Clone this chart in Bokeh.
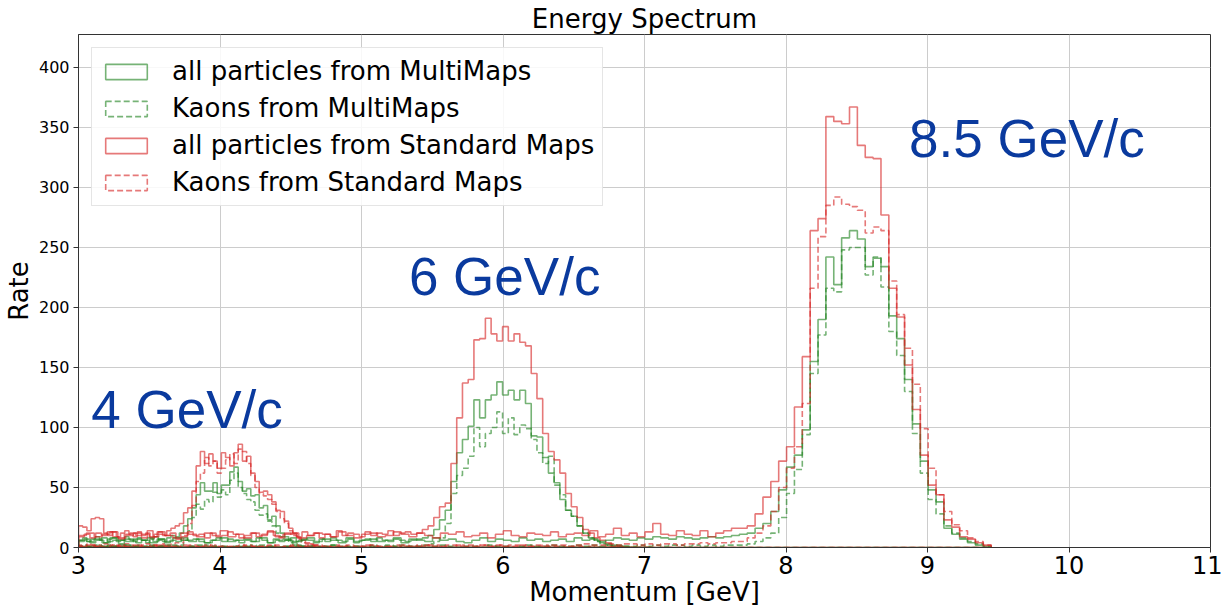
import numpy as np
from bokeh.plotting import figure
from bokeh.models import Range1d, Label, FixedTicker
from bokeh.embed import file_html
from bokeh.resources import INLINE

# ---------------- data ----------------
# binning of the three beam-momentum samples (GeV)
bin_start_4, bin_width_4 = 3.0, 0.0297
bin_start_6, bin_width_6 = 3.0, 0.0405
bin_start_85, bin_width_85 = 3.0, 0.0556

# 4 GeV/c sample (64 bins)
mm_all_4 = [6,8,5,7,9,6,4,7,8,5, 6,9,7,5,8,6,4,7,9,6, 5,8,10,9,
            12,18,24,33,44,54,47,47,54,45, 52,52,63,67,55,47,49,43,44,33,
            35,23,26,18,12,9,6,4,2,1, 0,0,0,0,0,0,0,0,0,0]
mm_kaon_4 = [1,2,1,0,2,1,1,2,1,1, 2,1,0,1,2,1,1,2,1,1, 2,1,2,2,
             2,6,14,25,36,32,40,38,46,42, 48,44,56,62,50,45,40,38,31,27,
             28,22,18,12,9,6,4,2,1,1, 0,0,0,0,0,0,0,0,0,0]
sm_all_4 = [18,17,14,24,25,24,12,10,13,9, 12,14,11,9,13,10,12,8,11,13, 10,14,16,18,
            20,29,33,47,68,80,70,78,72,66, 79,75,68,79,86,72,76,62,55,46,
            47,44,38,31,30,22,16,12,8,6, 4,3,2,1,1,0,0,0,0,0]
sm_kaon_4 = [2,1,3,2,1,2,3,1,2,2, 1,3,2,1,2,2,3,1,2,2, 3,2,3,4,
             4,10,20,35,55,62,75,68,72,62, 66,73,78,70,82,80,70,60,50,45,
             43,40,36,30,24,20,14,10,7,4, 3,2,1,0,0,0,0,0,0,0]

# 6 GeV/c sample (100 bins)
mm_all_6 = [5,7,4,6,8,5,6,3,7,6, 4,6,8,5,7,4,6,5,8,6, 7,5,4,6,8,5,7,6,4,6,
            5,8,6,4,7,5,6,8,5,7, 6,4,7,5,8,6,5,7,4,6, 7,5,8,6,5,7,6,5,
            6,7,8,10,15,23,31,55,79,90, 101,123,108,123,127,138,127,131,123,131,
            120,93,92,75,62,54,40,31,26,18, 12,8,6,4,3,2,1,1,0,0, 0,0]
mm_kaon_6 = [1,0,1,2,0,1,1,0,2,1, 0,1,1,0,1,2,0,1,0,1, 1,0,2,1,0,1,0,1,1,0,
             2,1,0,1,1,0,1,2,0,1, 1,0,1,0,2,1,1,0,1,1, 0,2,1,1,0,1,2,1,
             1,1,2,3,5,8,20,45,60,66, 76,100,84,95,100,113,95,108,94,102,
             99,90,79,70,76,52,44,31,26,18, 12,8,5,3,2,1,1,0,0,0, 0,0]
sm_all_6 = [9,11,8,12,10,13,9,7,11,12, 10,8,14,9,11,10,12,7,9,13, 10,11,8,12,9,10,13,11,8,10,
            12,9,11,14,10,8,12,11,9,13, 10,12,8,11,9,14,10,12,11,9, 13,10,12,11,14,10,12,13,
            11,12,15,18,25,34,37,70,108,137, 140,173,174,191,178,172,184,172,178,171,
            168,145,124,95,80,73,62,45,34,25, 15,12,8,6,4,1,1,0,0,0, 0,0]
sm_kaon_6 = [1,0,2,1,1,0,1,2,1,0, 1,1,0,2,1,1,0,1,2,1, 0,1,1,2,0,1,1,0,2,1,
             1,0,1,1,2,0,1,1,0,1, 2,1,0,1,1,2,1,0,1,1, 2,1,1,0,1,2,1,1,
             1,2,1,2,2,1,2,2,1,2, 2,1,2,2,1,2,1,2,2,1, 2,1,1,2,1,1,1,0,1,1,
             0,1,0,0,1,0,0,0,0,0, 0,0]

# 8.5 GeV/c sample (116 bins)
mm_all_85 = [6,5,7,4,8,6,5,7,6,4, 7,5,8,6,5,7,4,6,8,5, 6,7,5,8,4,6,7,5,6,8,
             5,7,6,4,8,5,6,7,5,6, 8,4,7,6,5,8,6,7,5,4, 6,8,5,7,6,5,8,6,7,5,
             6,7,5,8,6,7,5,6,8,7, 6,8,7,9,8,7,9,8,7,8, 9,8,9,10,
             11,12,16,20,30,48,67,77,98,155, 190,242,219,258,264,257,234,241,234,193,
             174,140,103,72,48,38,16,11,7,4, 2,1]
mm_kaon_85 = [0,1,0,1,1,0,2,1,0,1, 1,0,1,0,1,2,0,1,1,0, 1,1,0,2,1,0,1,0,1,1,
              0,1,2,0,1,1,0,1,0,2, 1,0,1,1,0,1,2,1,0,1, 1,0,2,1,1,0,1,2,1,1,
              2,1,1,2,1,2,1,2,2,1, 1,2,1,2,1,2,2,1,2,1, 2,1,2,2,
              2,3,5,8,12,25,45,65,94,145, 177,216,213,248,250,250,227,242,217,180,
              160,130,95,62,40,28,18,12,8,5, 3,1]
sm_all_85 = [10,12,9,11,13,8,10,12,11,9, 13,10,8,12,11,9,12,10,14,9, 11,8,12,10,13,9,11,12,8,10,
             12,11,9,13,10,8,11,12,9,10, 13,11,9,12,10,8,12,11,13,9, 10,12,8,11,14,10,9,12,11,10,
             13,9,11,12,10,14,9,11,16,10, 12,9,13,20,11,10,14,11,10,14, 9,12,14,16,
             16,18,28,42,55,72,84,117,159,264, 274,359,355,353,367,335,325,324,277,216,
             192,152,115,77,52,44,23,17,9,7, 4,2]
sm_kaon_85 = [1,2,1,0,2,1,1,2,0,1, 2,1,1,0,2,1,2,1,1,0, 1,2,1,1,2,0,1,2,1,1,
              2,1,0,1,2,1,1,2,1,1, 0,2,1,1,2,1,1,0,2,1, 1,2,1,2,1,1,2,1,2,1,
              2,2,1,2,3,2,2,3,2,3, 3,2,3,2,3,3,2,3,3,4, 3,4,4,5,
              5,8,12,18,30,50,66,84,120,216, 259,285,292,286,284,281,262,267,264,222,
              194,166,136,99,66,44,30,19,14,8, 5,2]

series_labels = ["all particles from MultiMaps", "Kaons from MultiMaps",
                 "all particles from Standard Maps", "Kaons from Standard Maps"]
x_ticks = [3, 4, 5, 6, 7, 8, 9, 10, 11]
y_ticks = [0, 50, 100, 150, 200, 250, 300, 350, 400]
peak_texts = ["4 GeV/c", "6 GeV/c", "8.5 GeV/c"]
peak_text_x = [3.09, 5.335, 8.87]
peak_text_y = [115, 226, 341]

# ---------------- styling ----------------
GREEN = "#1a801a"
RED = "#d62020"
ALPHA = 0.6
LW = 1.6
DASH = "6 3"
styles = [(GREEN, "solid"), (GREEN, DASH), (RED, "solid"), (RED, DASH)]


def step_outline(start, width, counts):
    counts = np.asarray(counts, dtype=float)
    edges = start + width * np.arange(len(counts) + 1)
    xs = np.repeat(edges, 2)
    ys = np.concatenate([[0.0], np.repeat(counts, 2), [0.0]])
    return xs, ys


p = figure(width=1222, height=609, output_backend="svg", toolbar_location=None,
           x_range=Range1d(3, 11), y_range=Range1d(0, 427.4),
           min_border_left=78, min_border_right=12, min_border_top=34, min_border_bottom=61)
p.background_fill_color = "white"
p.border_fill_color = "white"
p.outline_line_color = "#333333"
p.outline_line_width = 1

groups = [
    (bin_start_4, bin_width_4, [mm_all_4, mm_kaon_4, sm_all_4, sm_kaon_4]),
    (bin_start_6, bin_width_6, [mm_all_6, mm_kaon_6, sm_all_6, sm_kaon_6]),
    (bin_start_85, bin_width_85, [mm_all_85, mm_kaon_85, sm_all_85, sm_kaon_85]),
]
for gi, (start, width, series) in enumerate(groups):
    for counts, lab, (col, dash) in zip(series, series_labels, styles):
        xs, ys = step_outline(start, width, counts)
        kw = dict(legend_label=lab) if gi == 0 else {}
        p.patch(xs, ys, fill_alpha=0, line_color=col, line_alpha=ALPHA,
                line_width=LW, line_dash=dash, **kw)

for txt, tx, ty in zip(peak_texts, peak_text_x, peak_text_y):
    p.add_layout(Label(x=tx, y=ty, text=txt, text_font="Liberation Sans",
                       text_font_size="53px", text_color="#0a3a9e",
                       text_baseline="alphabetic", text_align="left"))

# title
p.title.text = "Energy Spectrum"
p.title.align = "center"
p.title.text_font = "DejaVu Sans"
p.title.text_font_size = "26px"
p.title.text_font_style = "normal"
p.title.text_color = "black"
p.title.standoff = 1

# axes
for ax in (p.xaxis[0], p.yaxis[0]):
    ax.axis_line_color = "#333333"
    ax.major_tick_line_color = "#333333"
    ax.major_tick_in = 0
    ax.major_tick_out = 5
    ax.minor_tick_line_color = None
    ax.major_label_text_font = "DejaVu Sans"
    ax.axis_label_text_font = "DejaVu Sans"
    ax.axis_label_text_font_style = "normal"
    ax.axis_label_text_font_size = "26px"
    ax.major_label_text_color = "black"
    ax.axis_label_text_color = "black"

p.xaxis.ticker = FixedTicker(ticks=x_ticks)
p.yaxis.ticker = FixedTicker(ticks=y_ticks)
p.xaxis.major_label_text_font_size = "24px"
p.yaxis.major_label_text_font_size = "16px"
p.xaxis.axis_label = "Momentum [GeV]"
p.yaxis.axis_label = "Rate"
p.xaxis.major_label_standoff = 3
p.xaxis.axis_label_standoff = 0
p.yaxis.major_label_standoff = 4
p.yaxis.axis_label_standoff = 2

p.grid.grid_line_color = "#cccccc"
p.grid.grid_line_width = 1

lg = p.legend[0]
lg.location = "top_left"
lg.margin = 13
lg.padding = 8
lg.spacing = 7
lg.glyph_width = 52
lg.glyph_height = 19
lg.label_standoff = 20
lg.label_text_font = "DejaVu Sans"
lg.label_text_font_size = "26px"
lg.label_text_color = "black"
lg.border_line_color = "#cccccc"
lg.border_line_width = 1
lg.background_fill_alpha = 0.85

open("out.html", "w").write(file_html(p, INLINE))
